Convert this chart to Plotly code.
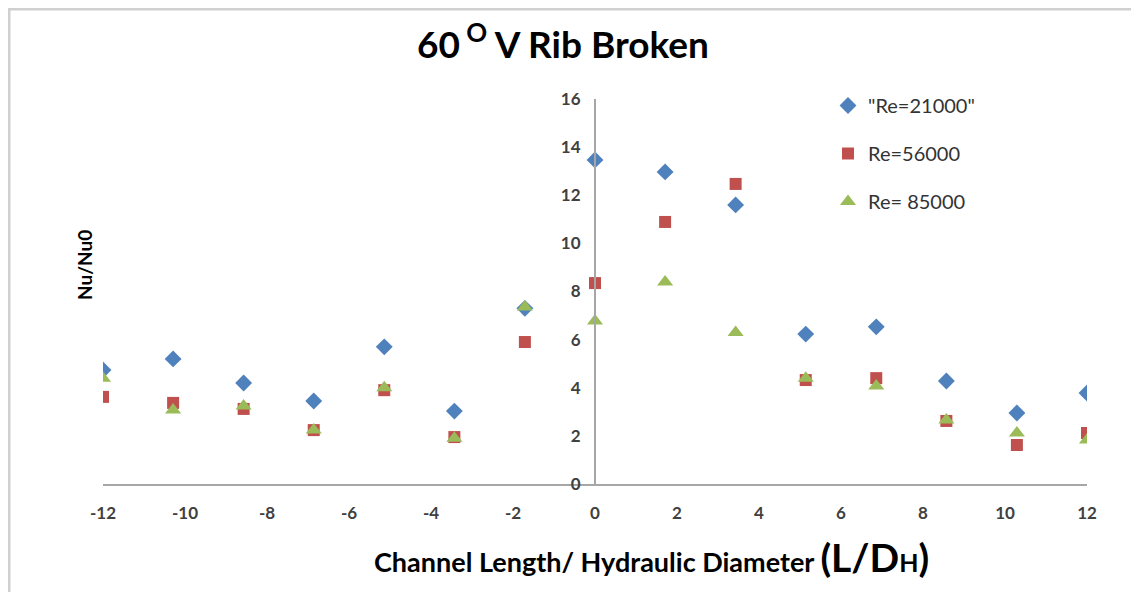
import plotly.graph_objects as go

x_vals = [-12, -10.29, -8.57, -6.86, -5.14, -3.43, -1.71, 0, 1.71, 3.43, 5.14, 6.86, 8.57, 10.29, 12]
re21000 = [4.74, 5.2, 4.2, 3.45, 5.7, 3.03, 7.3, 13.47, 12.97, 11.6, 6.23, 6.53, 4.28, 2.95, 3.78]
re56000 = [3.62, 3.37, 3.12, 2.24, 3.9, 1.95, 5.9, 8.35, 10.89, 12.47, 4.32, 4.4, 2.62, 1.62, 2.12]
re85000 = [4.4, 3.08, 3.24, 2.24, 4.0, 1.9, 7.36, 6.77, 8.4, 6.3, 4.4, 4.07, 2.66, 2.12, 1.83]
x_ticks = [-12, -10, -8, -6, -4, -2, 0, 2, 4, 6, 8, 10, 12]
x_tick_labels = ["-12", "-10", "-8", "-6", "-4", "-2", "0", "2", "4", "6", "8", "10", "12"]
y_ticks = [0, 2, 4, 6, 8, 10, 12, 14, 16]

FONT = "Lato, 'Open Sans', sans-serif"
L, R, T, B = 95, 52, 91, 108
W, H = 1131, 584
PW, PH = W - L - R, H - T - B
BOTTOM = T + PH


def px_x(fx):
    return (fx - L) / PW


def px_y(fy):
    return (BOTTOM - fy) / PH


fig = go.Figure()
fig.add_trace(go.Scatter(x=x_vals, y=re21000, mode="markers", name='"Re=21000"', legendgroup="a",
                         marker=dict(symbol="diamond", size=13, color="#4F81BD")))
fig.add_trace(go.Scatter(x=x_vals, y=re56000, mode="markers", name="Re=56000", legendgroup="b",
                         marker=dict(symbol="square", size=12, color="#C0504D")))
fig.add_trace(go.Scatter(x=x_vals, y=re85000, mode="markers", name="Re= 85000", legendgroup="c",
                         marker=dict(symbol="triangle-up", size=14, color="#9BBB59")))

tickfont = dict(size=17, color="#404040", family=FONT, weight="bold")
fig.update_layout(
    width=W, height=H,
    margin=dict(l=L, r=R, t=T, b=B),
    paper_bgcolor="white", plot_bgcolor="white",
    font=dict(family=FONT, color="#333333", size=14),
    title=dict(text="<b>60<sup> O</sup> V Rib Broken</b>", x=0.4907, xanchor="center", y=0.937, yanchor="middle",
               font=dict(size=37, color="#000000", family=FONT)),
    showlegend=True,
    legend=dict(x=px_x(820), y=px_y(78), xanchor="left", yanchor="top", tracegroupgap=19,
                font=dict(size=20, color="#333333", family=FONT), bgcolor="rgba(0,0,0,0)",
                itemwidth=30),
    xaxis=dict(range=[-12, 12], tickvals=x_ticks, ticktext=x_tick_labels, showgrid=False, zeroline=False,
               showline=True, linecolor="#A6A6A6", linewidth=2,
               ticks="outside", ticklen=13, tickcolor="rgba(0,0,0,0)",
               tickfont=tickfont),
    yaxis=dict(range=[0, 16], tickvals=y_ticks, showgrid=False, zeroline=False,
               showline=True, linecolor="#A6A6A6", linewidth=2,
               anchor="free", position=0.5,
               ticks="outside", ticklen=10, tickcolor="rgba(0,0,0,0)",
               tickfont=tickfont),
)

fig.add_annotation(text="<b>Nu/Nu0</b>", xref="paper", yref="paper", x=px_x(76), y=px_y(257),
                   xanchor="center", yanchor="middle",
                   textangle=-90, showarrow=False, font=dict(size=19, color="#000000", family=FONT))
fig.add_annotation(
    text="<b>Channel Length/ Hydraulic Diameter <span style='font-size:39px'>(L/D</span><span style='font-size:25px'>H</span><span style='font-size:39px'>)</span></b>",
    xref="paper", yref="paper", x=px_x(643), y=px_y(549), xanchor="center", yanchor="middle",
    showarrow=False, font=dict(size=27, color="#000000", family=FONT))

fig.add_shape(type="rect", xref="paper", yref="paper",
              x0=px_x(1), x1=px_x(W + 20), y0=px_y(H + 20), y1=px_y(1),
              line=dict(color="#D0D0D0", width=3))

fig.write_html("out.html")
